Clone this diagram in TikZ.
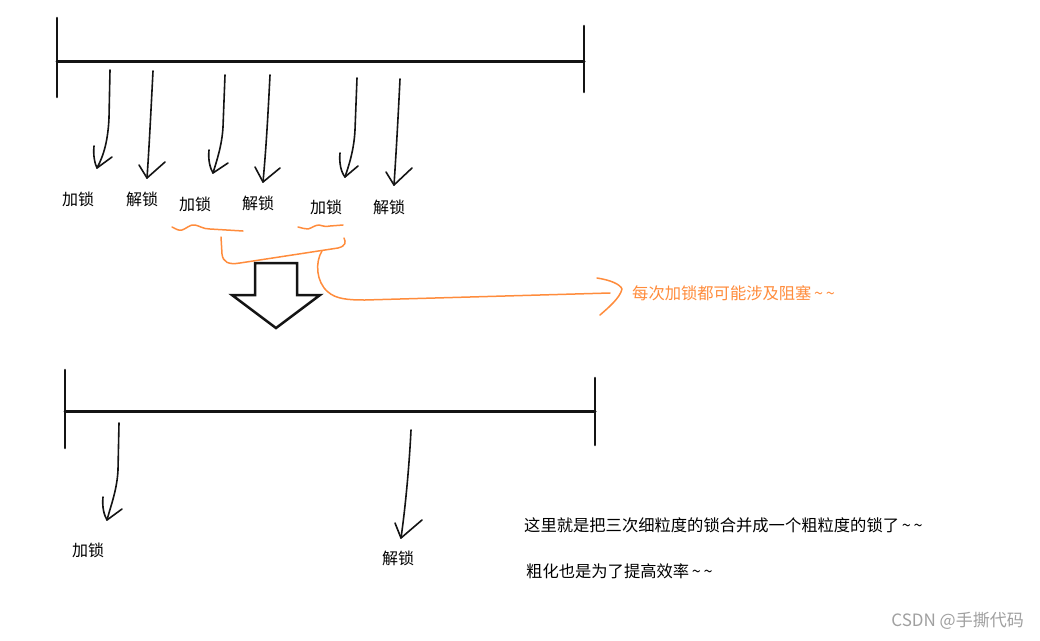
\documentclass[tikz,border=0pt]{standalone}
\usepackage{fontspec}
\newfontfamily\cjk{Noto Sans CJK SC}
\definecolor{pen}{RGB}{20,20,20}
\definecolor{hl}{RGB}{255,140,60}
\definecolor{wm}{RGB}{160,160,160}
\begin{document}
\begin{tikzpicture}[x=1pt,y=-1pt,
  axis/.style={line width=3pt,pen,line cap=round},
  tick/.style={line width=2.6pt,pen,line cap=round},
  hand/.style={line width=1.6pt,pen,line cap=round,line join=round},
  orng/.style={line width=1.5pt,hl,line cap=round,line join=round},
  lbl/.style={font=\cjk\fontsize{16}{18}\selectfont,text=black,inner sep=0pt},
  note/.style={font=\cjk\fontsize{16.3}{19}\selectfont,inner sep=0pt,anchor=west}]
\useasboundingbox (0,0) rectangle (1040,640);
\fill[white] (0,0) rectangle (1040,640);

% ---------- top timeline ----------
\coordinate (tL) at (57,61);
\coordinate (tR) at (584,61);
\draw[axis] (tL) -- (tR);
\draw[tick] (57,18) -- (57,97);
\draw[tick] (584,26) -- (584,92);

% arrows (hand drawn)
\coordinate (a1) at (110,70);  \coordinate (h1) at (97,168);
\draw[hand] (a1) -- (109,118) .. controls (108,140) and (104,155) .. (h1);
\draw[hand] (94,146) .. controls (93,156) and (95,164) .. (h1) -- (112,157);

\coordinate (a2) at (153,71);  \coordinate (h2) at (147,178);
\draw[hand] (a2) .. controls (151,110) and (149,150) .. (h2);
\draw[hand] (139,165) -- (h2) -- (165,162);

\coordinate (a3) at (225,75);  \coordinate (h3) at (213,173);
\draw[hand] (a3) -- (223,127) .. controls (222,145) and (217,160) .. (h3);
\draw[hand] (209,150) .. controls (208,160) and (210,168) .. (h3) -- (228,163);

\coordinate (a4) at (270,75);  \coordinate (h4) at (263,182);
\draw[hand] (a4) .. controls (268,115) and (266,150) .. (h4);
\draw[hand] (255,167) -- (h4) -- (280,168);

\coordinate (a5) at (357,78);  \coordinate (h5) at (345,177);
\draw[hand] (a5) -- (355,130) .. controls (354,150) and (349,165) .. (h5);
\draw[hand] (340,153) .. controls (339,163) and (341,172) .. (h5) -- (358,166);

\coordinate (a6) at (400,79);  \coordinate (h6) at (394,185);
\draw[hand] (a6) .. controls (398,120) and (396,155) .. (h6);
\draw[hand] (386,172) -- (h6) -- (412,168);

% labels
\node[lbl] (l1) at (78,199) {加锁};
\node[lbl] (l2) at (142,199) {解锁};
\node[lbl] (l3) at (195,204) {加锁};
\node[lbl] (l4) at (258,203) {解锁};
\node[lbl] (l5) at (326,207) {加锁};
\node[lbl] (l6) at (389,207) {解锁};

% ---------- orange annotation ----------
\draw[orng] (172,227) .. controls (176,229) and (179,231) .. (182,230)
  .. controls (186,229) and (190,224) .. (195,225)
  .. controls (200,226) and (203,229) .. (210,229) -- (243,231);
\draw[orng] (298,227) .. controls (302,228) and (305,229) .. (308,229)
  .. controls (312,228) and (315,225) .. (319,225)
  .. controls (323,226) and (326,227) .. (330,226) -- (343,225);
% bracket joining the two
\draw[orng] (221,237) -- (222,254) .. controls (223,262) and (228,265) .. (240,263)
  -- (338,248) .. controls (346,246) and (346,242) .. (344,238);
% stem to the note
\coordinate (s0) at (322,251);
\coordinate (s1) at (610,293);
\draw[orng] (s0) .. controls (315,262) and (316,282) .. (328,292)
  .. controls (336,299) and (348,300) .. (365,300) -- (s1);
\draw[orng] (597,278) .. controls (610,280) and (620,284) .. (622,289)
  .. controls (620,298) and (608,308) .. (600,315);
\node[note,text=hl,font=\cjk\fontsize{16.3}{19}\selectfont] (n0) at (632,293) {每次加锁都可能涉及阻塞\,\char`~\,\char`~};

% ---------- big hollow arrow ----------
\draw[line width=2.5pt,pen,line join=miter]
  (255,263) -- (297,263) -- (297,295) -- (320,295) -- (276,328)
  -- (232,295) -- (255,295) -- cycle;

% ---------- bottom timeline ----------
\coordinate (bL) at (65,411);
\coordinate (bR) at (595,411);
\draw[axis] (bL) -- (bR);
\draw[tick] (65,370) -- (65,448);
\draw[tick] (595,378) -- (595,445);

\coordinate (b1) at (119,423); \coordinate (g1) at (107,520);
\draw[hand] (b1) -- (118,470) .. controls (117,490) and (111,505) .. (g1);
\draw[hand] (103,497) .. controls (102,507) and (104,515) .. (g1) -- (122,509);

\coordinate (b2) at (411,430); \coordinate (g2) at (401,538);
\draw[hand] (b2) .. controls (409,470) and (405,510) .. (g2);
\draw[hand] (395,523) -- (g2) -- (422,520);

\node[lbl] (m1) at (88,550) {加锁};
\node[lbl] (m2) at (398,558) {解锁};

% ---------- notes ----------
\node[note] (n1) at (524,525) {这里就是把三次细粒度的锁合并成一个粗粒度的锁了\,\char`~\,\char`~};
\node[note] (n2) at (526,571) {粗化也是为了提高效率\,\char`~\,\char`~};
\node[font=\cjk\fontsize{17}{19}\selectfont,text=wm,inner sep=0pt,anchor=east] (wmk) at (1024,621) {CSDN @手撕代码};
\end{tikzpicture}
\end{document}
